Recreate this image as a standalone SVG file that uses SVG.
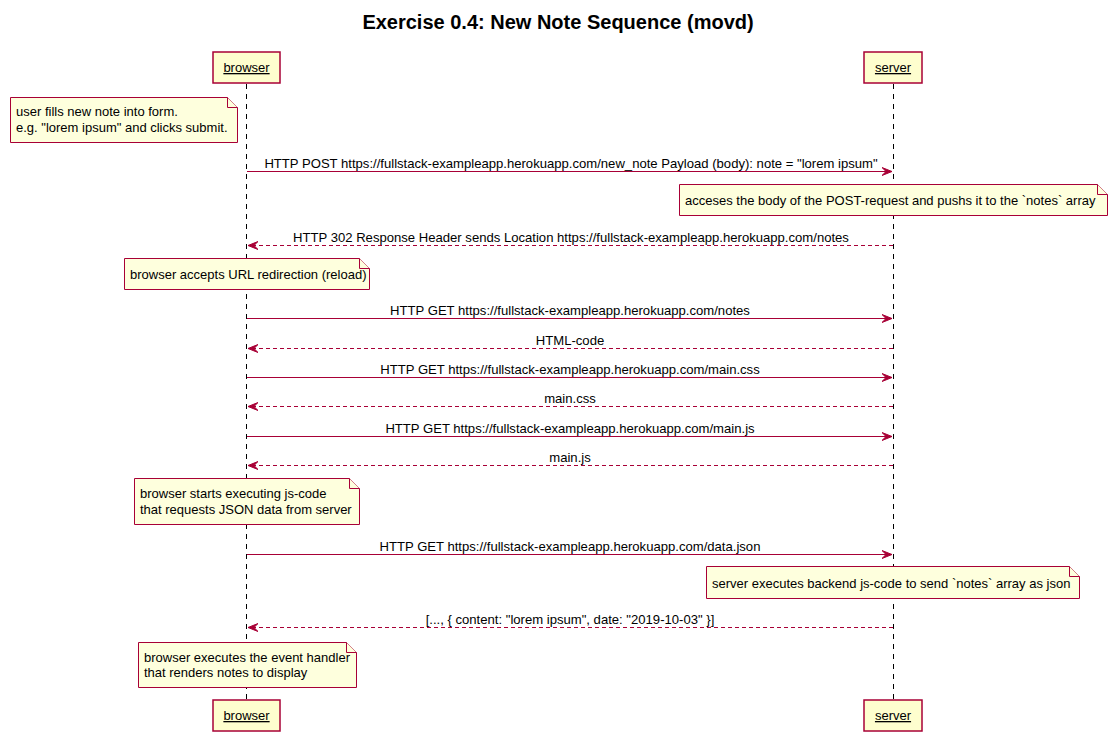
<svg xmlns="http://www.w3.org/2000/svg" width="1116" height="756" viewBox="0 0 1116 756">
<style>
text{font-family:"Liberation Sans",Arial,sans-serif;font-size:13px;fill:#000}
.title{font-size:20px;font-weight:bold}
.part rect{fill:#FEFECE;stroke:#A80036;stroke-width:1.5}
.part text{text-decoration:underline}
.note path{fill:#FEFFDD;stroke:#A80036;stroke-width:1}
.life{stroke:#000;stroke-width:1;stroke-dasharray:5,5}
.msg{stroke:#A80036;stroke-width:1;fill:none}
.ret{stroke:#A80036;stroke-width:1;fill:none;stroke-dasharray:4,3}
.mt{text-anchor:middle;font-size:13.1px}
</style>
<defs>
<marker id="ah" markerWidth="11" markerHeight="10" refX="10" refY="5" orient="auto" markerUnits="userSpaceOnUse">
<polygon points="0,1 10,5 0,9 4,5" fill="#A80036" stroke="#A80036" stroke-width="1"/>
</marker>
</defs>
<rect width="1116" height="756" fill="#fff"/>
<text class="title" x="558" y="29" text-anchor="middle">Exercise 0.4: New Note Sequence (movd)</text>
<g id="lifelines">
<line class="life" x1="246.5" y1="84" x2="246.5" y2="700"/>
<line class="life" x1="893.5" y1="84" x2="893.5" y2="700"/>
</g>
<g id="browser" class="part">
<rect x="213" y="52" width="67" height="31"/>
<text x="246.5" y="72" text-anchor="middle">browser</text>
<rect x="213" y="700" width="67" height="31"/>
<text x="246.5" y="720" text-anchor="middle">browser</text>
</g>
<g id="server" class="part">
<rect x="864" y="52" width="58" height="31"/>
<text x="893" y="72" text-anchor="middle">server</text>
<rect x="864" y="700" width="58" height="31"/>
<text x="893" y="720" text-anchor="middle">server</text>
</g>
<g id="note1" class="note">
<path d="M10.5,97.5 L227.5,97.5 L237.5,107.5 L237.5,142.5 L10.5,142.5 Z"/>
<path d="M227.5,97.5 L227.5,107.5 L237.5,107.5"/>
<text x="16" y="116">user fills new note into form.</text>
<text x="16" y="132">e.g. "lorem ipsum" and clicks submit.</text>
</g>
<g id="note2" class="note">
<path d="M679.5,184.5 L1097.5,184.5 L1107.5,194.5 L1107.5,215.5 L679.5,215.5 Z"/>
<path d="M1097.5,184.5 L1097.5,194.5 L1107.5,194.5"/>
<text x="685" y="205">acceses the body of the POST-request and pushs it to the `notes` array</text>
</g>
<g id="note3" class="note">
<path d="M124.5,258.5 L359.5,258.5 L369.5,268.5 L369.5,289.5 L124.5,289.5 Z"/>
<path d="M359.5,258.5 L359.5,268.5 L369.5,268.5"/>
<text x="130" y="279">browser accepts URL redirection (reload)</text>
</g>
<g id="note4" class="note">
<path d="M134.5,478.5 L349.5,478.5 L359.5,488.5 L359.5,524.5 L134.5,524.5 Z"/>
<path d="M349.5,478.5 L349.5,488.5 L359.5,488.5"/>
<text x="140" y="498">browser starts executing js-code</text>
<text x="140" y="514">that requests JSON data from server</text>
</g>
<g id="note5" class="note">
<path d="M706.5,566.5 L1069.5,566.5 L1079.5,576.5 L1079.5,598.5 L706.5,598.5 Z"/>
<path d="M1069.5,566.5 L1069.5,576.5 L1079.5,576.5"/>
<text x="712" y="588">server executes backend js-code to send `notes` array as json</text>
</g>
<g id="note6" class="note">
<path d="M138.5,642.5 L346.5,642.5 L356.5,652.5 L356.5,687.5 L138.5,687.5 Z"/>
<path d="M346.5,642.5 L346.5,652.5 L356.5,652.5"/>
<text x="144" y="662">browser executes the event handler</text>
<text x="144" y="677">that renders notes to display</text>
</g>
<g id="connectors">
<line class="msg" x1="247" y1="171.5" x2="892" y2="171.5" marker-end="url(#ah)"/>
<text class="mt" x="571" y="168">HTTP POST https://fullstack-exampleapp.herokuapp.com/new_note Payload (body): note = "lorem ipsum"</text>
<line class="ret" x1="893" y1="245.5" x2="248" y2="245.5" marker-end="url(#ah)"/>
<text class="mt" x="571" y="242">HTTP 302 Response Header sends Location https://fullstack-exampleapp.herokuapp.com/notes</text>
<line class="msg" x1="247" y1="318.5" x2="892" y2="318.5" marker-end="url(#ah)"/>
<text class="mt" x="570" y="315">HTTP GET https://fullstack-exampleapp.herokuapp.com/notes</text>
<line class="ret" x1="893" y1="348.5" x2="248" y2="348.5" marker-end="url(#ah)"/>
<text class="mt" x="570" y="345">HTML-code</text>
<line class="msg" x1="247" y1="377.5" x2="892" y2="377.5" marker-end="url(#ah)"/>
<text class="mt" x="570" y="374">HTTP GET https://fullstack-exampleapp.herokuapp.com/main.css</text>
<line class="ret" x1="893" y1="406.5" x2="248" y2="406.5" marker-end="url(#ah)"/>
<text class="mt" x="570" y="403">main.css</text>
<line class="msg" x1="247" y1="436.5" x2="892" y2="436.5" marker-end="url(#ah)"/>
<text class="mt" x="570" y="433">HTTP GET https://fullstack-exampleapp.herokuapp.com/main.js</text>
<line class="ret" x1="893" y1="465.5" x2="248" y2="465.5" marker-end="url(#ah)"/>
<text class="mt" x="570" y="462">main.js</text>
<line class="msg" x1="247" y1="554.5" x2="892" y2="554.5" marker-end="url(#ah)"/>
<text class="mt" x="570" y="551">HTTP GET https://fullstack-exampleapp.herokuapp.com/data.json</text>
<line class="ret" x1="893" y1="627.5" x2="248" y2="627.5" marker-end="url(#ah)"/>
<text class="mt" x="570" y="624">[..., { content: "lorem ipsum", date: "2019-10-03" }]</text>
</g>
</svg>
